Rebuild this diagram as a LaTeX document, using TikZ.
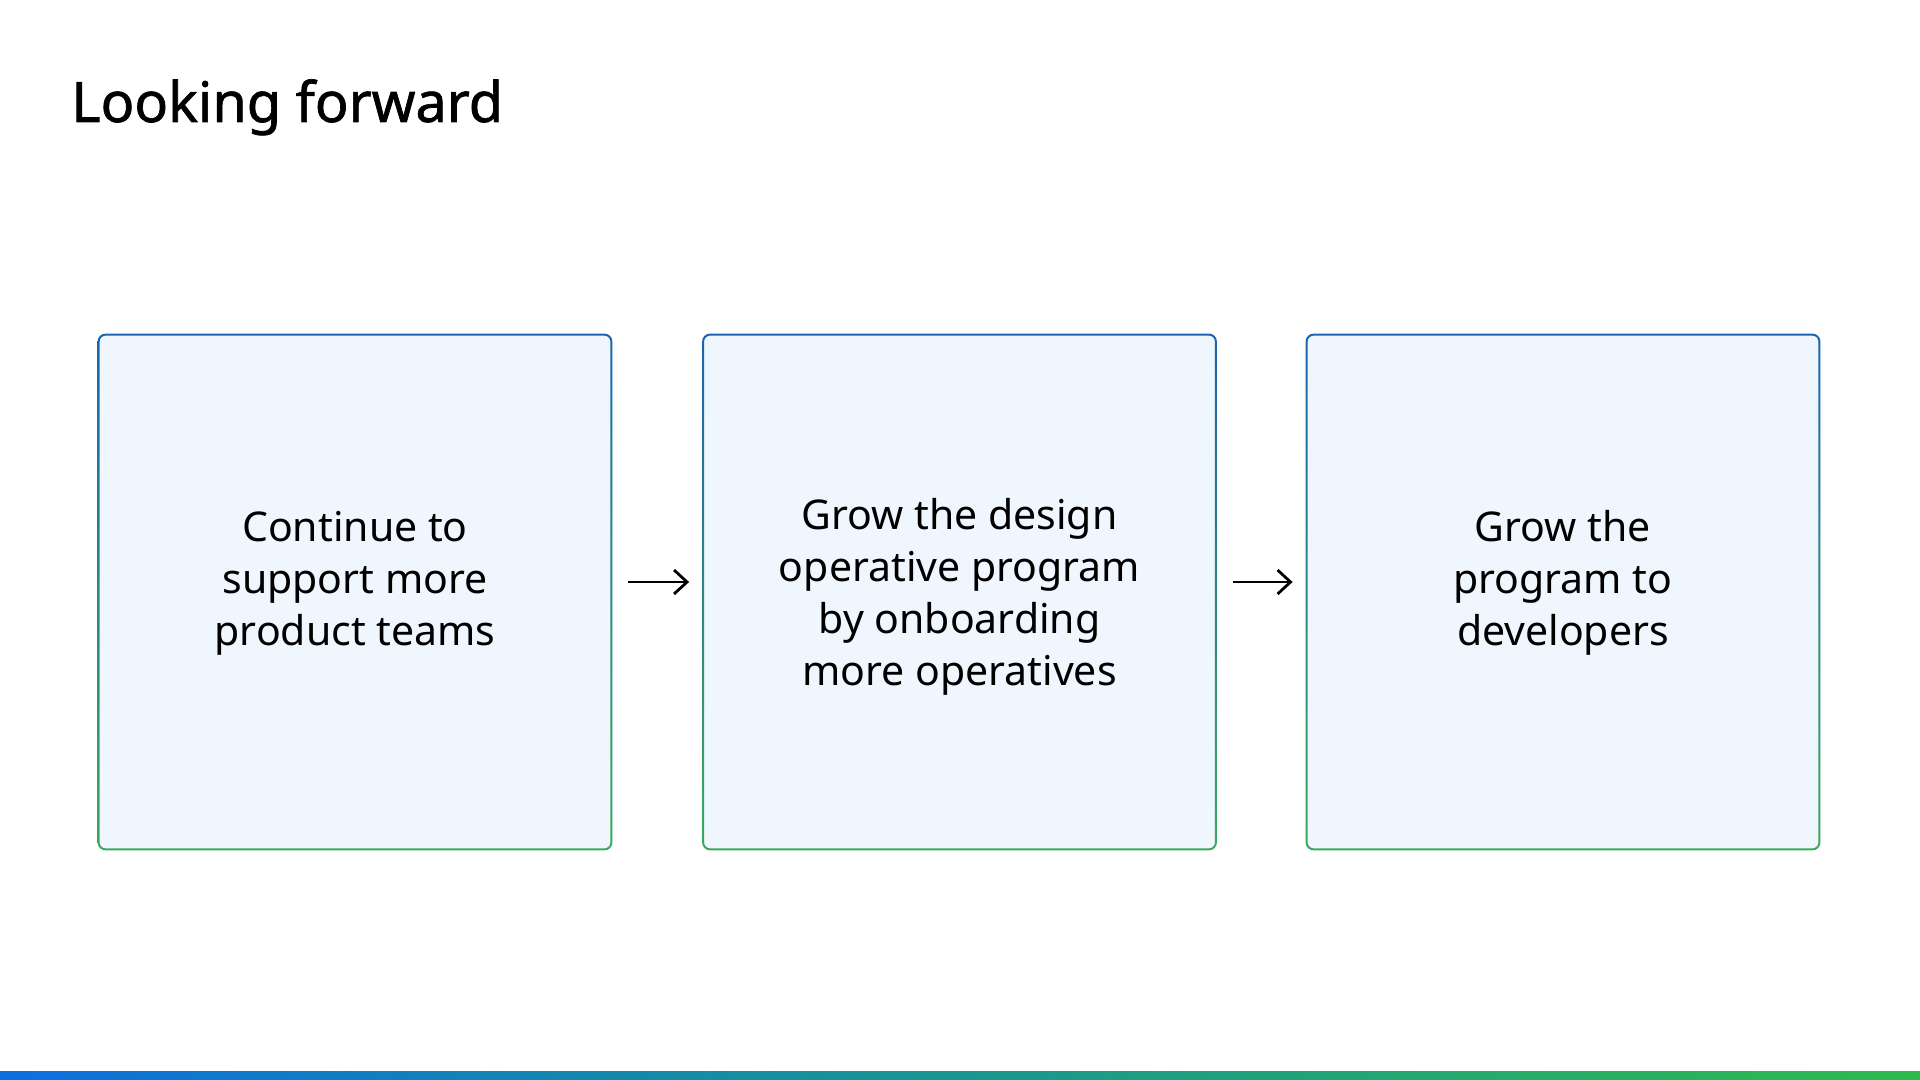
\documentclass[tikz,border=0pt]{standalone}
\usepackage{fontspec}
\setmainfont{Noto Sans}
\newfontfamily\titulofont[FakeBold=1.2]{Noto Sans}
\usetikzlibrary{arrows.meta}

\definecolor{bordeazul}{HTML}{1B64B0}
\definecolor{bordeverde}{HTML}{3AAA5C}
\definecolor{fondocaja}{HTML}{F0F6FD}
\definecolor{barraazul}{HTML}{0B6FE0}
\definecolor{barramedio}{HTML}{1A9690}
\definecolor{barraverde}{HTML}{2DBB4E}

\tikzset{
  caja/.style={fill=fondocaja, rounded corners=4pt, minimum width=257pt, minimum height=258pt,
    align=center, font=\fontsize{20.5}{26}\selectfont, inner sep=0pt},
  flecha/.style={-{Straight Barb[length=6.5pt,width=12pt]}, line width=1.4pt, shorten <=8pt, shorten >=6.5pt}
}

\begin{document}
\begin{tikzpicture}[x=0.5pt,y=-0.5pt]
            \useasboundingbox (0,0) rectangle (1920,1080); % Tamano de la diapositiva

            % Titulo
            \node[anchor=base west, inner sep=0pt, font=\titulofont\fontsize{27.9}{33}\selectfont] (titulo) at (71,122) {Looking forward};

            % Cajas
            \node[caja] (c1) at (355,592) {\raisebox{-0.7pt}[0pt][0pt]{\begin{tabular}{@{}c@{}}Continue to\\support more\\product teams\end{tabular}}};
            \node[caja] (c2) at (959.5,592) {\raisebox{-7.7pt}[0pt][0pt]{\begin{tabular}{@{}c@{}}Grow the design\\operative program\\by onboarding\\more operatives\end{tabular}}};
            \node[caja] (c3) at (1563,592) {\raisebox{-0.7pt}[0pt][0pt]{\begin{tabular}{@{}c@{}}Grow the\\program to\\developers\end{tabular}}};

            % Bordes con degradado azul-verde
            \foreach \c in {c1,c2,c3}
              \shade[top color=bordeazul, bottom color=bordeverde, even odd rule]
                [rounded corners=4pt] (\c.north west) rectangle (\c.south east)
                [rounded corners=3pt] ([shift={(1pt,-1pt)}]\c.north west) rectangle ([shift={(-1pt,1pt)}]\c.south east);

            % Flechas
            \draw[flecha] ([yshift=5pt]c1.east) -- ([yshift=5pt]c2.west);
            \draw[flecha] ([yshift=5pt]c2.east) -- ([yshift=5pt]c3.west);

            % Barra inferior
            \shade[left color=barraazul, right color=barraverde, middle color=barramedio] (0,1071) rectangle (1920,1080);
        \end{tikzpicture}
\end{document}
